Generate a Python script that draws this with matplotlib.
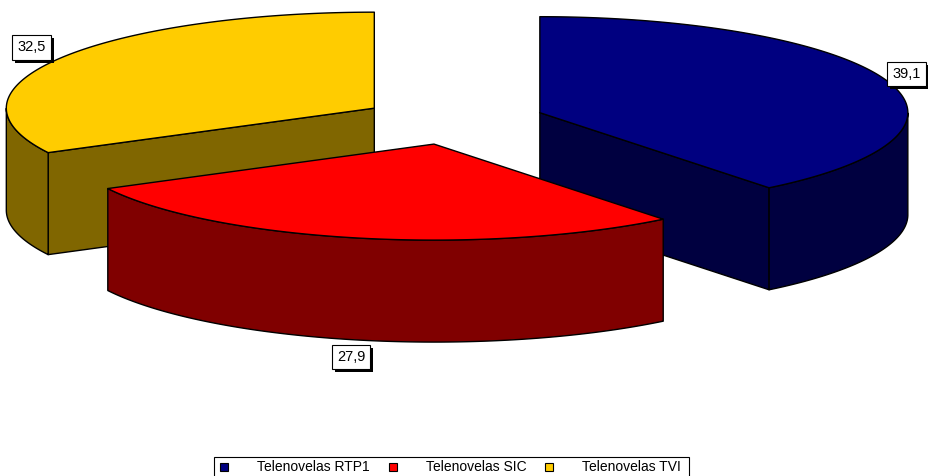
import numpy as np
import matplotlib.pyplot as plt
from matplotlib.patches import Polygon, Rectangle

plt.rcParams['font.family'] = ['Liberation Sans', 'DejaVu Sans']

# audiência por canal (%)
labels = ["Telenovelas RTP1", "Telenovelas SIC", "Telenovelas TVI"]
values = [39.1, 27.9, 32.5]
value_text = ["39,1", "27,9", "32,5"]
top_colors = ["#000080", "#FF0000", "#FFCC00"]
side_colors = ["#000040", "#800000", "#806600"]

# geometria do bolo 3D (em pixeis)
CX, CY = 453, 120.6
RX, RY = 368, 96
DEPTH = 102
EXPLODE = 0.25
START = 90.0

fig = plt.figure(figsize=(9.29, 4.76), dpi=100)
ax = fig.add_axes([0, 0, 1, 1])
ax.set_xlim(0, 929)
ax.set_ylim(476, 0)
ax.axis('off')
renderer = fig.canvas.get_renderer()


def rim(cx, cy, th, dz=0.0):
    t = np.radians(th)
    return cx + RX * np.cos(t), cy - RY * np.sin(t) + dz


vals = np.array(values)
edges = START - 360 * np.concatenate([[0], np.cumsum(vals / vals.sum())])

slices = []
for i in range(len(values)):
    a1, a2 = edges[i], edges[i + 1]
    mid = np.radians((a1 + a2) / 2)
    cx = CX + EXPLODE * RX * np.cos(mid)
    cy = CY - EXPLODE * RY * np.sin(mid)
    slices.append((cy, i, a1, a2, cx))

# desenhar de trás para a frente
for cy, i, a1, a2, cx in sorted(slices):
    kw = dict(edgecolor='black', linewidth=1, joinstyle='round')
    # faces radiais voltadas para a frente
    for a, ok in ((a1, np.cos(np.radians(a1)) < -1e-6),
                  (a2, np.cos(np.radians(a2)) > 1e-6)):
        if ok:
            x, y = rim(cx, cy, a)
            quad = [(cx, cy), (x, y), (x, y + DEPTH), (cx, cy + DEPTH)]
            ax.add_patch(Polygon(quad, closed=True, facecolor=side_colors[i], **kw))
    # parede exterior (metade da frente)
    th = np.linspace(a2, a1, 600)
    th = th[np.sin(np.radians(th)) <= 0]
    if len(th) > 1:
        xt, yt = rim(cx, cy, th)
        xb, yb = rim(cx, cy, th[::-1], DEPTH)
        wall = np.column_stack([np.concatenate([xt, xb]), np.concatenate([yt, yb])])
        ax.add_patch(Polygon(wall, closed=True, facecolor=side_colors[i], **kw))
    # face de cima
    th = np.linspace(a1, a2, 600)
    xt, yt = rim(cx, cy, th)
    top = np.column_stack([np.concatenate([[cx], xt]), np.concatenate([[cy], yt])])
    ax.add_patch(Polygon(top, closed=True, facecolor=top_colors[i], **kw))

# rótulos dos valores
texts = []
for cy, i, a1, a2, cx in slices:
    mid = np.radians((a1 + a2) / 2)
    lx = cx + 1.09 * RX * np.cos(mid)
    ly = cy - 1.22 * RY * np.sin(mid)
    if np.sin(mid) < 0:
        ly += DEPTH - 4
    t = ax.text(lx, ly, value_text[i], fontsize=10.5, color='black',
                ha='center', va='center', zorder=6,
                bbox=dict(boxstyle='square,pad=0.35', lw=0.8,
                          facecolor='white', edgecolor='black'))
    texts.append(t)

fig.canvas.draw()
for t in texts:
    bb = t.get_bbox_patch().get_window_extent(renderer)
    if bb.x1 > 926:
        t.set_x(t.get_position()[0] - (bb.x1 - 926))
        fig.canvas.draw()
        bb = t.get_bbox_patch().get_window_extent(renderer)
    # sombra preta deslocada 3 px
    ax.add_patch(Rectangle((bb.x0 + 3, 476 - bb.y1 + 3), bb.width, bb.height,
                           facecolor='black', edgecolor='none', zorder=5))

# legenda
x = 220
ly = 467
for i, lab in enumerate(labels):
    ax.add_patch(Rectangle((x, ly - 4), 8, 8, facecolor=top_colors[i],
                           edgecolor='black', linewidth=0.8, zorder=8))
    t = ax.text(x + 37, ly, lab, fontsize=10, ha='left', va='center', zorder=8)
    w = t.get_window_extent(renderer).width
    x_end = x + 37 + w
    x = x_end + 19
ax.add_patch(Rectangle((214, 457), x_end + 8 - 214, 30, facecolor='white',
                       edgecolor='black', linewidth=0.8, zorder=7))

fig.savefig('out.png', dpi=100)
